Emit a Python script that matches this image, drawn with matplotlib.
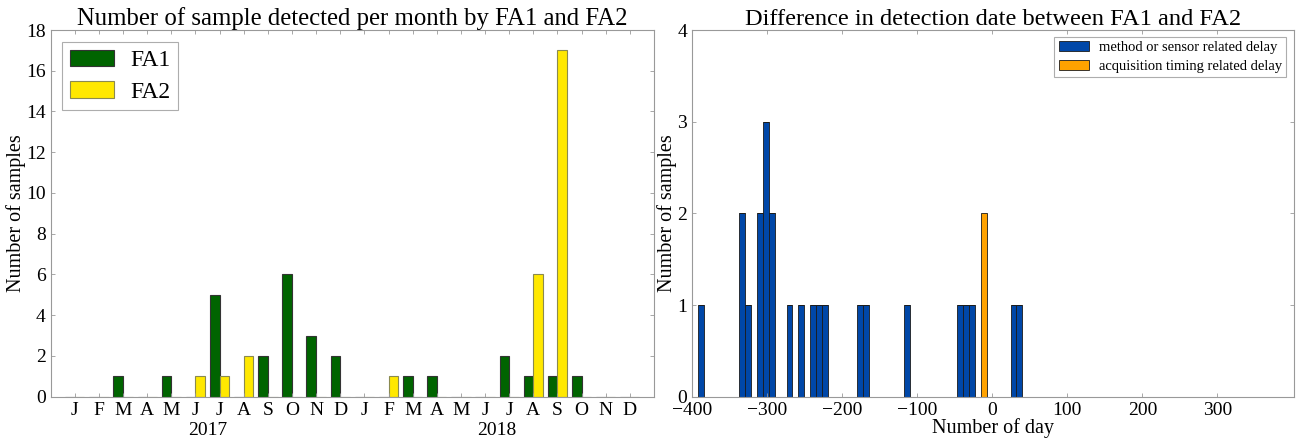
import numpy as np
import matplotlib
matplotlib.use('Agg')
import matplotlib.pyplot as plt
from matplotlib.transforms import blended_transform_factory


# monthly counts, Jan 2017 -> Dec 2018
month_letters = ['J', 'F', 'M', 'A', 'M', 'J', 'J', 'A', 'S', 'O', 'N', 'D']
years = ['2017', '2018']
fa1_counts = [0, 0, 1, 0, 1, 0, 5, 0, 2, 6, 3, 2,
              0, 0, 1, 1, 0, 0, 2, 1, 1, 1, 0, 0]
fa2_counts = [0, 0, 0, 0, 0, 1, 1, 2, 0, 0, 0, 0,
              0, 1, 0, 0, 0, 0, 0, 6, 17, 0, 0, 0]

# delay in days between FA1 and FA2 detections
method_delay_days = [-388, -333, -333, -325, -309, -309, -301, -301, -301,
                     -293, -293, -270, -254, -239, -231, -223, -176, -168,
                     -113, -42, -34, -26, 28, 36]
acquisition_delay_days = [-11, -11]
hist_range = (-392, 40)
hist_bins = 55


plt.rcParams['font.family'] = ['Liberation Serif', 'DejaVu Serif']
plt.rcParams['xtick.direction'] = 'in'
plt.rcParams['ytick.direction'] = 'in'
plt.rcParams['xtick.top'] = True
plt.rcParams['ytick.right'] = True
plt.rcParams['xtick.color'] = '#999999'
plt.rcParams['ytick.color'] = '#999999'
plt.rcParams['xtick.labelcolor'] = 'black'
plt.rcParams['ytick.labelcolor'] = 'black'
plt.rcParams['axes.edgecolor'] = '#999999'

fig = plt.figure(figsize=(12.96, 4.42), dpi=100)
ax1 = fig.add_axes([0.0391, 0.1025, 0.4655, 0.8296])
ax2 = fig.add_axes([0.534, 0.1025, 0.4645, 0.8296])

# left: grouped bars per month
x = np.arange(len(fa1_counts))
w = 0.4
ax1.bar(x - w, fa1_counts, width=w, align='edge', color='#006400',
        edgecolor='#333333', linewidth=0.8, label='FA1')
ax1.bar(x, fa2_counts, width=w, align='edge', color='#FFE800',
        edgecolor='#8a8a50', linewidth=0.8, label='FA2')
ax1.set_xlim(-1, len(x))
ax1.set_ylim(0, 18)
ax1.set_yticks(range(0, 19, 2))
ax1.set_xticks(x)
ax1.set_xticklabels(month_letters * len(years))
ax1.tick_params(axis='both', labelsize=14, length=3, width=0.6)
ax1.tick_params(axis='x', pad=4)
ax1.set_ylabel('Number of samples', fontsize=14.5, labelpad=0)
ax1.set_title('Number of sample detected per month by FA1 and FA2', fontsize=17.8, pad=2)
trans = blended_transform_factory(ax1.transData, ax1.transAxes)
for i, yr in enumerate(years):
    ax1.text(i * 12 + 5.5, -0.0935, yr, transform=trans, ha='center', va='center', fontsize=14)
leg1 = ax1.legend(loc='upper left', fontsize=17, handlelength=1.86, handleheight=0.68,
                  handletextpad=0.68, borderpad=0.33, labelspacing=0.44, fancybox=False,
                  borderaxespad=0, bbox_to_anchor=(0.0192, 0.968))
leg1.get_frame().set_edgecolor('#999999')
leg1.get_frame().set_linewidth(0.8)

# right: histogram of delays
edges = np.linspace(hist_range[0], hist_range[1], hist_bins + 1)
ax2.hist([method_delay_days, acquisition_delay_days], bins=edges, stacked=True,
         color=['#0047A8', '#FFA200'], edgecolor='#1a1a1a', linewidth=0.6,
         label=['method or sensor related delay', 'acquisition timing related delay'])
ax2.set_xlim(-400, 402)
ax2.set_ylim(0, 4)
ax2.set_xticks(range(-400, 301, 100))
ax2.set_yticks(range(0, 5))
ax2.set_xticklabels(['\u2212400', '\u2212300', '\u2212200', '\u2212100', '0', '100', '200', '300'])
ax2.tick_params(axis='both', labelsize=14, length=3, width=0.6)
ax2.set_ylabel('Number of samples', fontsize=14.5, labelpad=0)
ax2.set_xlabel('Number of day', fontsize=14.5, labelpad=0)
ax2.set_title('Difference in detection date between FA1 and FA2', fontsize=17.6, pad=2)
leg2 = ax2.legend(loc='upper right', fontsize=10.5, handlelength=2.05, handleheight=0.7,
                  handletextpad=0.7, borderpad=0.3, labelspacing=0.37, fancybox=False,
                  borderaxespad=0, bbox_to_anchor=(0.987, 0.982))
leg2.get_frame().set_edgecolor('#999999')
leg2.get_frame().set_linewidth(0.8)

plt.savefig('out.png', dpi=100)
